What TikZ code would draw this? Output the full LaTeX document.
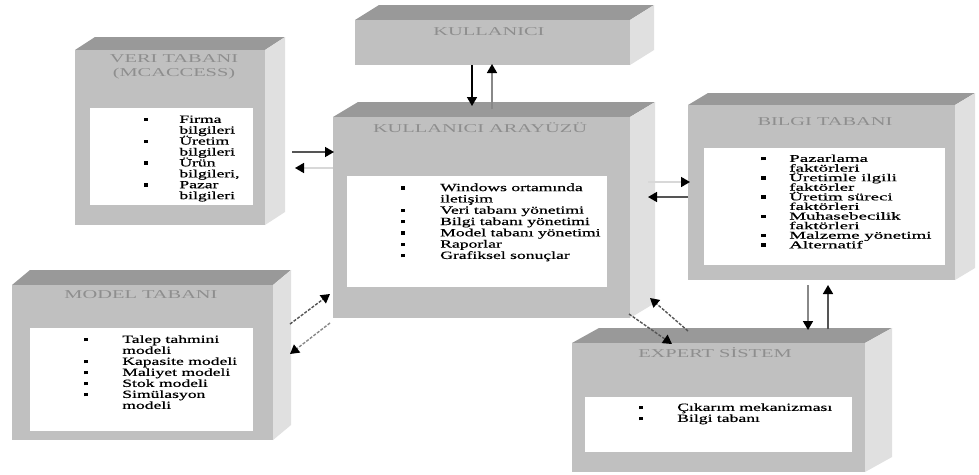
\documentclass[tikz,border=0pt]{standalone}
\usepackage{graphicx}
\usepackage{fontspec}
\setmainfont{Liberation Serif}
\newfontfamily\headfont[FakeStretch=1.7]{Liberation Serif}
\newfontfamily\itemfont[FakeBold=0.5]{Liberation Serif}
\usetikzlibrary{fit,calc,arrows.meta}

\definecolor{facegray}{HTML}{C0C0C0}
\definecolor{topgray}{HTML}{999999}
\definecolor{sidegray}{HTML}{E0E0E0}
\definecolor{headgray}{HTML}{8E8E8E}
\definecolor{shaftdark}{HTML}{555555}
\definecolor{shaftmid}{HTML}{888888}
\definecolor{shaftlight}{HTML}{D8D8D8}

% small square bullet
\newcommand\blk{\raisebox{1.6pt}{\rule{2.6pt}{3.4pt}}}
% list rows: a bulleted entry and a continuation line
\newcommand\entry[1]{\blk & \smash{#1}\\}
\newcommand\more[1]{ & \smash{#1}\\}
% a list set in a widened serif
\newcommand\widelist[4]{% stretch, size, line pitch, body
  \scalebox{#1}[1]{\itemfont\fontsize{#2}{#3}\selectfont #4}}

% a raised block: name, front face x0 y0 x1 y1, depth dx dy
\newcommand\solidblock[7]{%
  \path (#2,#3) coordinate (#1-a) (#4,#5) coordinate (#1-b)
        (#4,#3) coordinate (#1-c);
  \fill[topgray] (#1-a) -- ++(#6,#7) -- ($(#1-c)+(#6,#7)$) -- (#1-c) -- cycle;
  \fill[sidegray] (#1-c) -- ++(#6,#7) -- ($(#1-b)+(#6,#7)$) -- (#1-b) -- cycle;
  \node[fit=(#1-a)(#1-b), inner sep=0pt, fill=facegray] (#1) {};
}
% white panel inside a block
\newcommand\panel[5]{%
  \path (#2,#3) coordinate (#1-pa) (#4,#5) coordinate (#1-pb);
  \node[fit=(#1-pa)(#1-pb), inner sep=0pt, fill=white] (#1) {};
}

\tikzset{
  headtext/.style={text=headgray, inner sep=0pt, align=center,
    font=\headfont\fontsize{12}{14}\selectfont},
  itemlist/.style={anchor=north west, inner sep=0pt},
  tipblack/.style={-{Triangle[length=9pt,width=10pt,color=black,fill=black]}},
  link/.style={tipblack, line width=1.6pt},
  slantlink/.style={tipblack, line width=1.4pt, dash pattern=on 3pt off 1.5pt},
}

\begin{document}
\begin{tikzpicture}[x=1pt,y=-1pt]
\useasboundingbox (0,0) rectangle (979,474);
\fill[white] (0,0) rectangle (979,474);

% blocks
\solidblock{kul}{355}{20}{630}{65}{24}{-15}
\solidblock{veri}{75}{50}{265}{225}{20}{-13}
\solidblock{ui}{333}{117}{630}{318}{25}{-15}
\solidblock{bilgi}{688}{105}{955}{280}{20}{-12}
\solidblock{model}{12}{285}{273}{440}{18}{-15}
\solidblock{exp}{572}{343}{865}{472}{27}{-15}

% white panels
\panel{veri-in}{90}{108}{253}{205}
\panel{ui-in}{347}{176}{607}{287}
\panel{bilgi-in}{704}{148}{945}{265}
\panel{model-in}{30}{328}{253}{431}
\panel{exp-in}{585}{397}{852}{452}

% titles
\node[headtext] (kul-title) at (489,32) {KULLANICI};
\node[headtext] (veri-title) at (174,67) {VERI TABANI\\(MCACCESS)};
\node[headtext] (ui-title) at (480,128) {KULLANICI ARAYÜZÜ};
\node[headtext] (bilgi-title) at (825,122) {BILGI TABANI};
\node[headtext] (model-title) at (141,295) {MODEL TABANI};
\node[headtext] (exp-title) at (715,353) {EXPERT SİSTEM};

% item lists
\node[itemlist] (veri-list) at (144,115) {\widelist{1.6}{11}{10.9}{%
  \begin{tabular}{@{}p{22pt}@{}l@{}}
  \entry{Firma}
  \more{bilgileri}
  \entry{Üretim}
  \more{bilgileri}
  \entry{Ürün}
  \more{bilgileri,}
  \entry{Pazar}
  \more{bilgileri}
  \end{tabular}}};

\node[itemlist] (ui-list) at (401,183) {\widelist{1.6}{11}{11.3}{%
  \begin{tabular}{@{}p{24.4pt}@{}l@{}}
  \entry{Windows ortamında}
  \more{iletişim}
  \entry{Veri tabanı yönetimi}
  \entry{Bilgi tabanı yönetimi}
  \entry{Model tabanı yönetimi}
  \entry{Raporlar}
  \entry{Grafiksel sonuçlar}
  \end{tabular}}};

\node[itemlist] (bilgi-list) at (761,155) {\widelist{1.8}{10.5}{9.6}{%
  \begin{tabular}{@{}p{15.6pt}@{}l@{}}
  \entry{Pazarlama}
  \more{faktörleri}
  \entry{Üretimle ilgili}
  \more{faktörler}
  \entry{Üretim süreci}
  \more{faktörleri}
  \entry{Muhasebecilik}
  \more{faktörleri}
  \entry{Malzeme yönetimi}
  \entry{Alternatif}
  \end{tabular}}};

\node[itemlist] (model-list) at (84,335) {\widelist{1.6}{11}{11}{%
  \begin{tabular}{@{}p{23.8pt}@{}l@{}}
  \entry{Talep tahmini}
  \more{modeli}
  \entry{Kapasite modeli}
  \entry{Maliyet modeli}
  \entry{Stok modeli}
  \entry{Simülasyon}
  \more{modeli}
  \end{tabular}}};

\node[itemlist] (exp-list) at (639,403) {\widelist{1.6}{11}{11}{%
  \begin{tabular}{@{}p{23.8pt}@{}l@{}}
  \entry{Çıkarım mekanizması}
  \entry{Bilgi tabanı}
  \end{tabular}}};

% connector end points
\coordinate (k1s) at (472,65);  \coordinate (k1e) at (472,106);
\coordinate (k2s) at (492,109); \coordinate (k2e) at (492,64);
\coordinate (v1s) at (292,152); \coordinate (v1e) at (334,152);
\coordinate (v2s) at (333,168); \coordinate (v2e) at (295,168);
\coordinate (b1s) at (648,182); \coordinate (b1e) at (690,182);
\coordinate (b2s) at (688,197); \coordinate (b2e) at (648,197);
\coordinate (m1s) at (290,324); \coordinate (m1e) at (330,294);
\coordinate (m2s) at (330,323); \coordinate (m2e) at (290,354);
\coordinate (e1s) at (629,314); \coordinate (e1e) at (672,344);
\coordinate (e2s) at (688,331); \coordinate (e2e) at (650,298);
\coordinate (s1s) at (808,285); \coordinate (s1e) at (808,330);
\coordinate (s2s) at (828,329); \coordinate (s2e) at (828,285);

% connectors
\draw[link, draw=black] (k1s) -- (k1e);
\draw[link, draw=shaftmid] (k2s) -- (k2e);
\draw[link, draw=shaftdark] (v1s) -- (v1e);
\draw[link, draw=shaftlight] (v2s) -- (v2e);
\draw[link, draw=shaftlight] (b1s) -- (b1e);
\draw[link, draw=shaftdark] (b2s) -- (b2e);
\draw[slantlink, draw=shaftdark] (m1s) -- (m1e);
\draw[slantlink, draw=shaftmid] (m2s) -- (m2e);
\draw[slantlink, draw=shaftdark] (e1s) -- (e1e);
\draw[slantlink, draw=shaftdark] (e2s) -- (e2e);
\draw[link, draw=shaftmid] (s1s) -- (s1e);
\draw[link, draw=shaftdark] (s2s) -- (s2e);
\end{tikzpicture}
\end{document}
